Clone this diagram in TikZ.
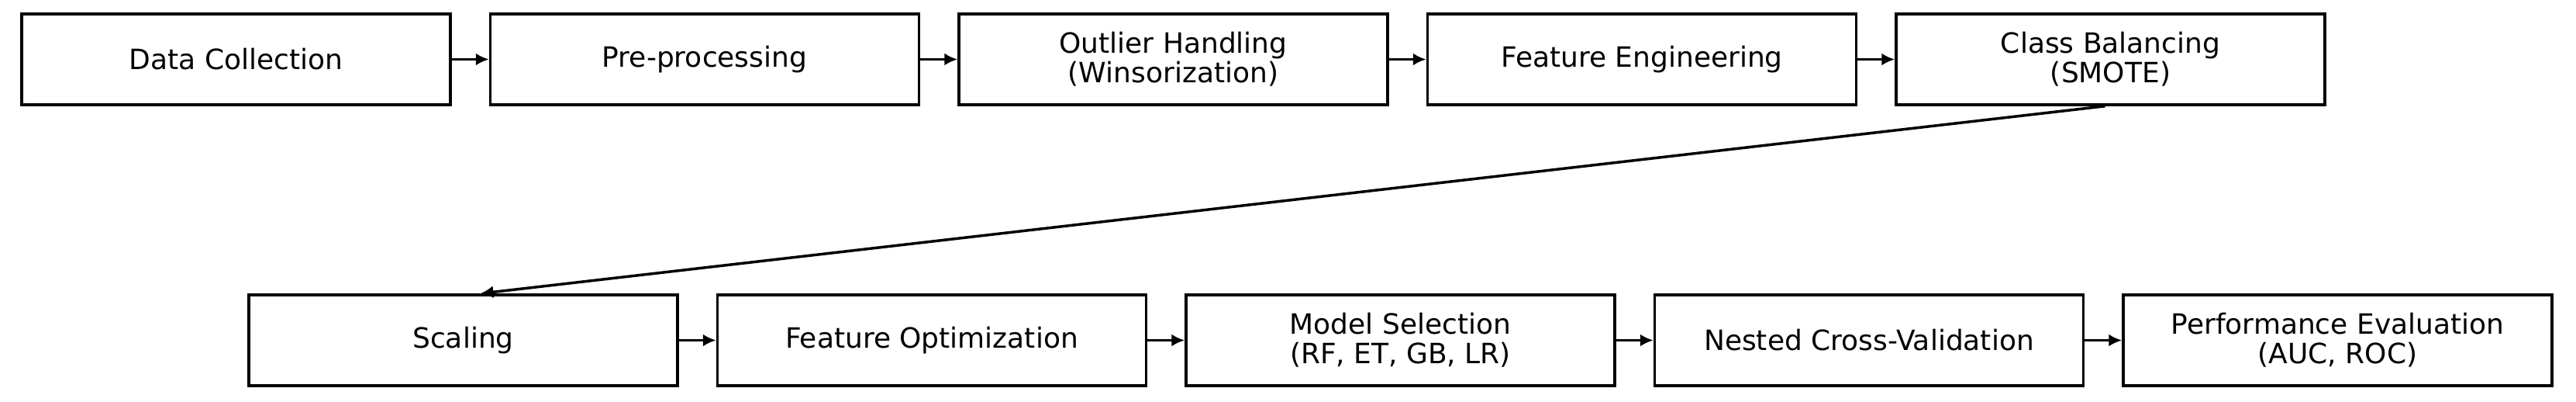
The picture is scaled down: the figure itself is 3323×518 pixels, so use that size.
\documentclass[tikz,border=0pt]{standalone}
\usepackage{fontspec}
\setmainfont{DejaVu Sans}
\usetikzlibrary{arrows.meta}
\begin{document}
\begin{tikzpicture}[x=1pt,y=1pt,
  box/.style={draw,line width=3.5pt,minimum width=553pt,minimum height=117pt,align=center,font=\fontsize{36}{38}\selectfont,inner sep=0pt},
  arr/.style={line width=3.5pt,-{Latex[length=17pt,width=16pt]}}]
\useasboundingbox (0,0) rectangle (3323,518);
\foreach \n/\t [count=\i from 0] in {a/Data Collection,b/Pre-processing,c/{Outlier Handling\\(Winsorization)},d/Feature Engineering,e/{Class Balancing\\(SMOTE)}}{
  \node[box] (\n) at (304.5+604.5*\i,441.5) {\t};}
\foreach \n/\t [count=\i from 0] in {f/Scaling,g/Feature Optimization,h/{Model Selection\\(RF, ET, GB, LR)},k/Nested Cross-Validation,l/{Performance Evaluation\\(AUC, ROC)}}{
  \node[box] (\n) at (597.5+604.5*\i,79.5) {\t};}
\draw[arr] (a) -- (b); \draw[arr] (b) -- (c); \draw[arr] (c) -- (d); \draw[arr] (d) -- (e);
\draw[arr] (f) -- (g); \draw[arr] (g) -- (h); \draw[arr] (h) -- (k); \draw[arr] (k) -- (l);
\draw[arr] ([xshift=-7pt]e.south) -- ([xshift=22pt]f.north);
\end{tikzpicture}
\end{document}
